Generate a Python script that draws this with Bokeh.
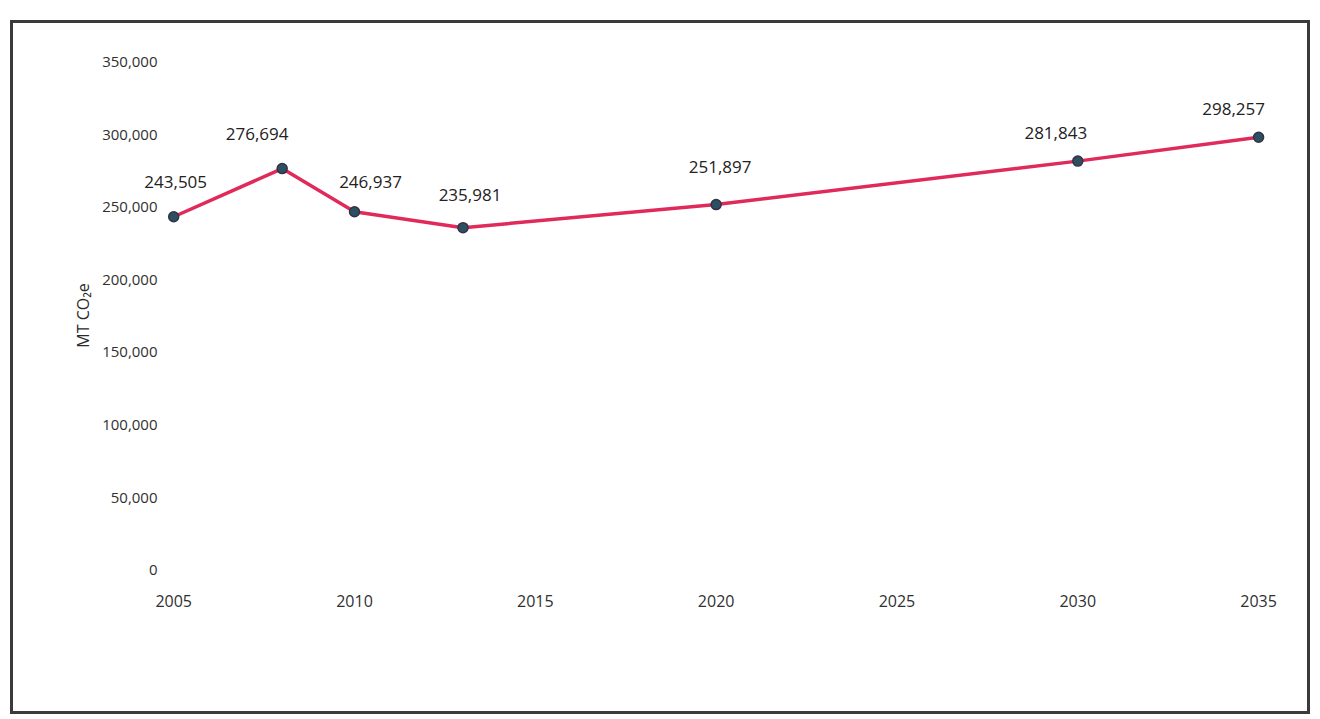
from bokeh.plotting import figure
from bokeh.models import ColumnDataSource, Range1d, NumeralTickFormatter, FixedTicker, LabelSet
from bokeh.core.properties import value
from bokeh.embed import file_html
from bokeh.resources import INLINE

years = [2005, 2008, 2010, 2013, 2020, 2030, 2035]
values = [243505, 276694, 246937, 235981, 251897, 281843, 298257]
labels = ["243,505", "276,694", "246,937", "235,981", "251,897", "281,843", "298,257"]
x_ticks = [2005, 2010, 2015, 2020, 2025, 2030, 2035]
y_ticks = [0, 50000, 100000, 150000, 200000, 250000, 300000, 350000]

# label placement (style)
lab_dx = [2, -25, 16, 7, 4, -22, -25]
lab_dy = [35, 35, 30, 33, 38, 28, 28]

src = ColumnDataSource(dict(x=years, y=values, t=labels, dx=lab_dx, dy=lab_dy))

FONT = "Open Sans"
p = figure(width=1300, height=694, output_backend="svg", toolbar_location=None,
           x_range=Range1d(2003.944, 2035.495), y_range=Range1d(-9164, 360128),
           min_border_left=122, min_border_right=37, min_border_top=24, min_border_bottom=134)
p.styles = {"border": "3px solid #3a3a3a", "box-sizing": "border-box",
            "margin-left": "10px", "margin-top": "20px"}
p.outline_line_color = None
p.xgrid.visible = False
p.ygrid.visible = False

for ax in (p.xaxis[0], p.yaxis[0]):
    ax.axis_line_color = None
    ax.major_tick_line_color = None
    ax.minor_tick_line_color = None
    ax.major_label_text_font = FONT
    ax.major_label_text_color = "#303030"

p.xaxis.ticker = FixedTicker(ticks=x_ticks)
p.xaxis.major_label_text_font_size = "16px"
p.xaxis.major_label_standoff = 5
p.yaxis.ticker = FixedTicker(ticks=y_ticks)
p.yaxis.formatter = NumeralTickFormatter(format="0,0")
p.yaxis.major_label_text_font_size = "15px"
p.yaxis.major_label_standoff = -28
p.yaxis.axis_label = "MT CO₂e"
p.yaxis.axis_label_text_font = FONT
p.yaxis.axis_label_text_font_size = "16px"
p.yaxis.axis_label_text_font_style = "normal"
p.yaxis.axis_label_text_color = "#2a2a2a"
p.yaxis.axis_label_standoff = 5

p.line("x", "y", source=src, line_color="#e02a5a", line_width=3.5)
p.scatter("x", "y", source=src, size=10, fill_color="#2c4f62", line_color="#333344", line_width=1.5)

lbl = LabelSet(x="x", y="y", text="t", source=src, x_offset="dx", y_offset="dy",
               text_align="center", text_baseline="middle",
               text_font=value(FONT), text_font_size="17px", text_color="#222222")
p.add_layout(lbl)

open("out.html", "w").write(file_html(p, INLINE))
